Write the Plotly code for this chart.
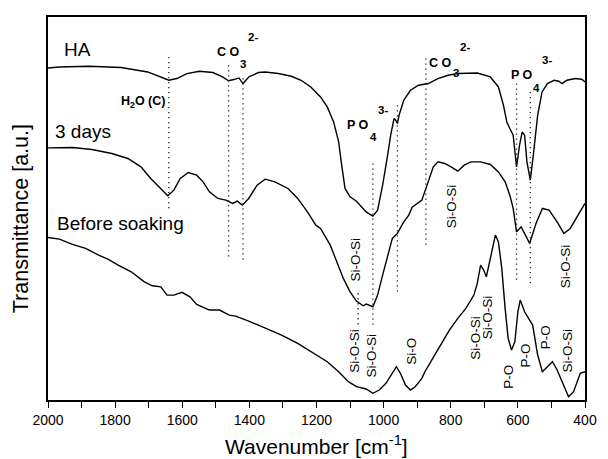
import plotly.graph_objects as go

# ---------------- data ----------------
ha_wn = [2000, 1966, 1878, 1782, 1703, 1664, 1640, 1616, 1586, 1549, 1509, 1480, 1462, 1446, 1431,
         1419, 1402, 1373, 1353, 1314, 1275, 1246, 1217, 1188, 1168, 1149, 1134, 1125, 1115, 1100,
         1081, 1052, 1032, 1018, 1003, 988, 979, 969, 964, 959, 954, 940, 920, 896, 877, 867, 838,
         808, 779, 721, 682, 658, 643, 633, 624, 614, 604, 595, 587, 580, 573, 563, 554, 541, 528,
         512, 492, 478, 468, 454, 429, 410, 400]
ha_t = [332.3, 333.3, 334, 332.7, 328.3, 323.3, 320, 321.7, 326.7, 329, 327.7, 323.3, 319.5, 320.7,
        322.3, 316.7, 323.3, 327.7, 328.3, 326.7, 324, 320, 313.3, 303.3, 293.3, 278.3, 258.3, 235,
        211.7, 203.3, 199, 188.3, 184, 190, 215, 245, 265, 281.7, 280, 276.7, 285, 300, 310, 315,
        316, 316.7, 321.7, 325, 326.7, 327.3, 323.3, 313.3, 295, 278.3, 271.7, 265, 233.3, 255,
        268.3, 265, 238.3, 220, 245, 285, 308.3, 316.7, 320, 319, 316.7, 320, 321.7, 321, 318.3]

d3_wn = [2000, 1927, 1869, 1810, 1762, 1723, 1694, 1664, 1643, 1625, 1606, 1582, 1557, 1538, 1519,
         1494, 1470, 1450, 1436, 1421, 1402, 1377, 1353, 1324, 1285, 1256, 1227, 1202, 1188, 1159,
         1139, 1120, 1100, 1081, 1061, 1052, 1032, 1018, 1003, 988, 974, 959, 940, 925, 915, 886,
         874, 862, 852, 838, 818, 799, 779, 760, 740, 711, 682, 658, 638, 624, 614, 604, 590, 565,
         546, 527, 507, 483, 463, 444, 420, 400]
d3_t = [252.3, 252.7, 250.7, 246.7, 241.7, 233.3, 221.7, 211.7, 204.3, 210, 221.7, 227.7, 225, 218.3,
        208.3, 201.7, 200, 196.7, 199, 195, 201.7, 215, 221, 218.3, 211.7, 201.7, 188.3, 175, 171.7,
        155, 138.3, 121.7, 108.3, 99, 94.3, 96, 93.3, 105, 125, 145, 161.7, 166.7, 178.3, 185, 193,
        200, 211.7, 221.7, 233.3, 238.3, 236.7, 233.3, 229, 235, 238.3, 238.3, 235.7, 228.3, 218.3,
        205, 191.7, 168.3, 173.3, 156.7, 176.7, 191.7, 190, 178.3, 166.7, 171.7, 185, 196.7]

bs_wn = [2000, 1966, 1927, 1888, 1849, 1820, 1791, 1752, 1713, 1689, 1664, 1645, 1625, 1601, 1577,
         1557, 1519, 1489, 1460, 1441, 1402, 1353, 1304, 1256, 1207, 1168, 1134, 1105, 1081, 1052,
         1032, 1013, 993, 974, 962, 950, 935, 920, 906, 886, 877, 848, 818, 804, 779, 755, 731, 721,
         711, 702, 694, 682, 667, 658, 648, 638, 629, 619, 609, 600, 593, 580, 565, 556, 541, 527,
         512, 497, 483, 463, 449, 434, 414, 400]
bs_t = [162.7, 161, 155.7, 151.7, 145, 140.7, 135, 128.3, 118.3, 114.3, 113.3, 105, 105, 107.7, 103.3,
        95.7, 90, 90, 85, 84, 79, 71.7, 65, 56.7, 46.7, 38.3, 28.3, 18.3, 13.3, 11, 6.7, 10, 16.7,
        26.7, 33.3, 26.7, 15, 10, 13.3, 21.7, 28.3, 45, 61.7, 70, 81.7, 91.7, 105, 116.7, 135, 130,
        123.3, 141.7, 165, 158.3, 131.7, 91.7, 61.7, 50, 58.3, 88.3, 100, 88.3, 80, 75, 45, 28.3,
        33.3, 38.3, 30, 15, 3.3, 8.3, 26.7, 28.3]

# dotted band markers: wavenumber, top and bottom (a.u.)
band_wn = [1640, 1462, 1419, 1076, 1032, 959, 874, 604, 563]
band_top = [343.3, 335, 322, 107, 236.7, 295, 341.7, 316.7, 308.3]
band_bot = [192, 142, 137, 75, 75, 106.7, 151.7, 118.3, 113.3]

x_ticks = [2000, 1800, 1600, 1400, 1200, 1000, 800, 600, 400]

# ---------------- figure ----------------
FONT = "Liberation Sans, Arial, sans-serif"
fig = go.Figure()

for wn, t in [(ha_wn, ha_t), (d3_wn, d3_t), (bs_wn, bs_t)]:
    fig.add_trace(go.Scatter(x=wn, y=t, mode="lines",
                             line=dict(color="black", width=1.4),
                             showlegend=False, hoverinfo="skip"))

for wn, top, bot in zip(band_wn, band_top, band_bot):
    fig.add_trace(go.Scatter(x=[wn, wn], y=[top, bot], mode="lines",
                             line=dict(color="#222", width=1.3, dash="1.3px,3.7px"),
                             showlegend=False, hoverinfo="skip"))

ann = []
def label(text, x, y, size=19, bold=False, angle=0, xanchor="center"):
    t = f"<b>{text}</b>" if bold else text
    ann.append(dict(text=t, x=x, y=y, xref="x", yref="y", showarrow=False,
                    textangle=angle, xanchor=xanchor, yanchor="middle",
                    font=dict(family=FONT, size=size, color="black")))

# sample names
label("HA", 1957, 351, xanchor="left")
label("3 days", 1986, 269, xanchor="left")
label("Before soaking", 1980, 177, xanchor="left")

# chemical group labels
s = 12.5
label("H<sub>2</sub>O (C)", 1645, 298, size=s, bold=True, xanchor="right")
label("C O", 1463, 348.3, size=s, bold=True)
label("3", 1420, 336, size=s - 1, bold=True)
label("2-", 1390, 363, size=s - 1, bold=True)
label("C O", 831, 337.7, size=s, bold=True)
label("3", 784, 327, size=s - 1, bold=True)
label("2-", 758, 353, size=s - 1, bold=True)
label("P O", 1076, 275, size=s, bold=True)
label("4", 1031, 263.3, size=s - 1, bold=True)
label("3-", 1003, 290, size=s - 1, bold=True)
label("P O", 589, 325, size=s, bold=True)
label("4", 546, 312.5, size=s - 1, bold=True)
label("3-", 514, 340, size=s - 1, bold=True)

v = 13.5
for txt, x, y in [("Si-O-Si", 1084, 141), ("Si-O-Si", 799, 194), ("Si-O-Si", 458, 133.5),
                  ("Si-O-Si", 1089, 49), ("Si-O-Si", 1035, 44.5), ("Si-O", 918, 48.5),
                  ("Si-O-Si", 729, 62), ("Si-O-Si", 690, 82.5), ("P-O", 629, 23.5),
                  ("P-O", 580, 44), ("P-O", 517, 62.5), ("Si-O-Si", 451, 49.5)]:
    label(txt, x, y, size=v, angle=-90)

# axis titles
ann.append(dict(text="Wavenumber [cm<sup>-1</sup>]", x=0.5, y=0, xref="paper", yref="paper",
                yshift=-45, showarrow=False, yanchor="middle",
                font=dict(family=FONT, size=21, color="black")))
ann.append(dict(text="Transmittance [a.u.]", x=0, y=0.472, xref="paper", yref="paper",
                xshift=-27, showarrow=False, textangle=-90, xanchor="center", yanchor="middle",
                font=dict(family=FONT, size=21.5, color="black")))

fig.update_layout(
    width=608, height=459,
    margin=dict(l=48, r=11, t=17, b=59),
    paper_bgcolor="white", plot_bgcolor="white",
    annotations=ann,
    xaxis=dict(range=[2000, 400], tickvals=x_ticks, ticks="outside", ticklen=6, tickwidth=1.3,
               tickcolor="black", showline=True, linecolor="black", linewidth=1.5, mirror=True,
               showgrid=False, zeroline=False, ticklabeloverflow="allow",
               tickfont=dict(family=FONT, size=14, color="black"),
               minor=dict(dtick=100, ticks="outside", ticklen=6, tickwidth=1.3, tickcolor="black",
                          showgrid=False)),
    yaxis=dict(range=[0, 383.3], showticklabels=False, ticks="", showline=True,
               linecolor="black", linewidth=1.5, mirror=True, showgrid=False, zeroline=False),
)

fig.write_html("out.html", config={"displayModeBar": False},
               post_script="document.body.style.margin='0';document.body.style.overflow='hidden';")
